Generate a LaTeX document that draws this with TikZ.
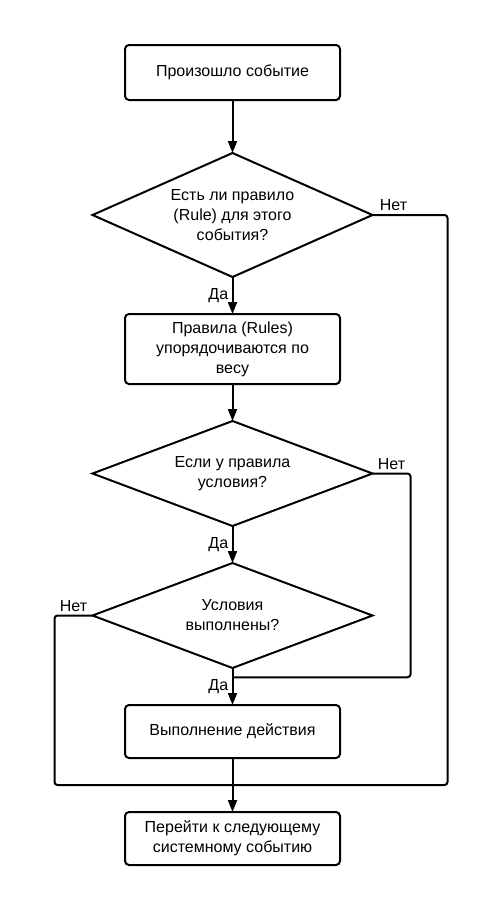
\documentclass[tikz,border=0pt]{standalone}
\usepackage{fontspec}
\setmainfont{Liberation Sans}
\usetikzlibrary{shapes.geometric, positioning, arrows.meta, calc}

\begin{document}
\begin{tikzpicture}[
        x=1pt, y=1pt,
        node distance=37pt,
        font=\fontsize{16}{20}\selectfont,
        % Style for the process boxes
        block/.style={
            rectangle, draw, line width=2pt, rounded corners=4pt,
            align=center, minimum width=215pt, minimum height=55pt,
            inner sep=0pt, outer sep=0pt
        },
        % Style for the questions
        decision/.style={
            diamond, draw, line width=2pt, aspect=2.4,
            align=center, minimum width=280pt, minimum height=105pt,
            inner sep=0pt, outer sep=0pt
        },
        line/.style={draw, line width=2pt, -{Triangle[length=12pt,width=9pt]}},
        branch/.style={draw, line width=2pt, rounded corners=3pt}
    ]

        \useasboundingbox (0,0) rectangle (497,-900);

        % --- Nodes ---
        \node [block] (event) at (232.5,-72.5) {Произошло событие};
        \node [decision, minimum height=124pt, below=53pt of event] (hasrule)
            {Есть ли правило\\(Rule) для этого\\события?};
        \node [block, minimum height=70pt, below=of hasrule] (sort)
            {Правила (Rules)\\упорядочиваются по\\весу};
        \node [decision, below=of sort] (hascond) {Если у правила\\условия?};
        \node [decision, below=of hascond] (condok) {Условия\\выполнены?};
        \node [block, minimum height=53pt, below=of condok] (action) {Выполнение действия};
        \node [block, minimum height=53pt, below=54pt of action] (next)
            {Перейти к следующему\\системному событию};

        % merge points
        \coordinate (merge1) at ($(condok.south)!0.25!(action.north)$);
        \coordinate (merge2) at ($(action.south)!0.5!(next.north)$);

        % --- Edges ---
        \path [line] (event) -- (hasrule);
        \path [line] (hasrule) -- node[left] {Да} (sort);
        \path [line] (sort) -- (hascond);
        \path [line] (hascond) -- node[left] {Да} (condok);
        \path [line] (condok) -- node[left] {Да} (action);
        \path [line] (action) -- (next);

        % "no" branches
        \path [branch] (hasrule.east) -- node[above, pos=0.28] {Нет} ++(75,0) |- (merge2);
        \path [branch] (hascond.east) -- node[above] {Нет} ++(38,0) |- (merge1);
        \path [branch] (condok.west) -- node[above] {Нет} ++(-38,0) |- (merge2);

    \end{tikzpicture}
\end{document}
